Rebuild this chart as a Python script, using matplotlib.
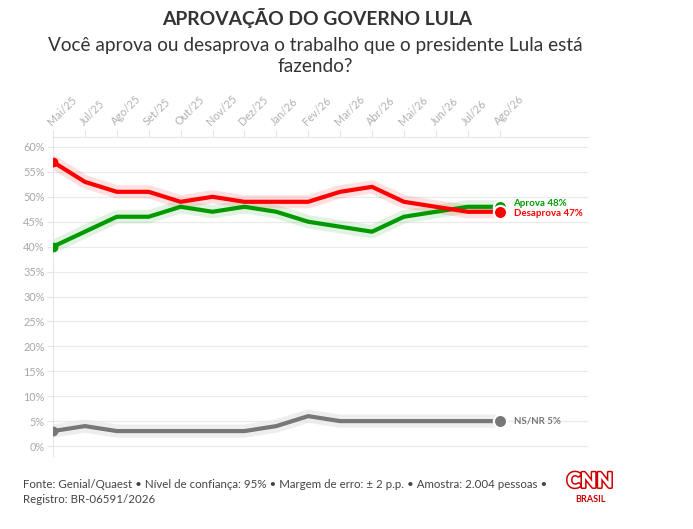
import matplotlib
matplotlib.use("Agg")
import matplotlib.pyplot as plt
import matplotlib.patheffects as pe

plt.rcParams['font.family'] = ['Lato', 'DejaVu Sans']

months = ["Mai/25", "Jul/25", "Ago/25", "Set/25", "Out/25", "Nov/25", "Dez/25",
          "Jan/26", "Fev/26", "Mar/26", "Abr/26", "Mai/26", "Jun/26", "Jul/26", "Ago/26"]
aprova = [40, 43, 46, 46, 48, 47, 48, 47, 45, 44, 43, 46, 47, 48, 48]
desaprova = [57, 53, 51, 51, 49, 50, 49, 49, 49, 51, 52, 49, 48, 47, 47]
nsnr = [3, 4, 3, 3, 3, 3, 3, 4, 6, 5, 5, 5, 5, 5, 5]
yticks = list(range(0, 61, 5))

RED = "#ff0000"
GREEN = "#009a00"
GRAY = "#777777"

W, H = 693, 529
fig = plt.figure(figsize=(W / 100, H / 100), dpi=100)
ax = fig.add_axes([53 / W, 1 - 456 / H, (588 - 53) / W, (456 - 137) / H])

x = list(range(len(months)))
series = [
    (nsnr, GRAY, "#e8e8e8", 0.7),
    (aprova, GREEN, "#009a00", 0.12),
    (desaprova, RED, "#ff0000", 0.12),
]
for vals, col, glow, ga in series:
    ax.plot(x, vals, color=glow, lw=9.5, alpha=ga,
            solid_joinstyle="round", solid_capstyle="round", zorder=2)
    ax.plot(x, vals, color=col, lw=3, solid_joinstyle="round", zorder=3)
    ax.plot(x[0], vals[0], "o", color=col, ms=6, zorder=4)
    ax.plot(x[-1], vals[-1], "o", color=col, ms=9.5, mec="white", mew=1.6, zorder=5)

ax.annotate(f"Aprova {aprova[-1]}%", (x[-1], aprova[-1]), xytext=(10, 2.5),
            textcoords="offset points", color=GREEN, fontsize=7, fontweight="bold",
            va="center", ha="left")
ax.annotate(f"Desaprova {desaprova[-1]}%", (x[-1], desaprova[-1]), xytext=(10, -1.5),
            textcoords="offset points", color=RED, fontsize=7, fontweight="bold",
            va="center", ha="left")
ax.annotate(f"NS/NR {nsnr[-1]}%", (x[-1], nsnr[-1]), xytext=(10, 0),
            textcoords="offset points", color=GRAY, fontsize=7, fontweight="bold",
            va="center", ha="left")

ax.set_xlim(0, 16.77)
ax.set_ylim(-2, 62)
ax.set_yticks(yticks)
ax.set_yticklabels([f"{v}%" for v in yticks])
ax.set_xticks(x)
ax.set_xticklabels(months, rotation=45, ha="left", rotation_mode="anchor")
ax.xaxis.tick_top()
ax.tick_params(axis="x", colors="#e6e6e6", labelcolor="#b0b0b0", labelsize=7.8,
               length=5, width=0.8, pad=2)
ax.tick_params(axis="y", colors="#e6e6e6", labelcolor="#a8a8a8", labelsize=7.8,
               length=4, width=0.8, pad=2)
ax.grid(axis="y", color="#ebebeb", lw=0.9, zorder=0)
for s in ["right", "bottom"]:
    ax.spines[s].set_visible(False)
ax.spines["top"].set_color("#e6e6e6")
ax.spines["left"].set_color("#e6e6e6")
ax.set_axisbelow(True)

fig.text(317 / W, 1 - 18 / H, "APROVAÇÃO DO GOVERNO LULA", ha="center", va="center",
         fontsize=13.9, fontweight="bold", color="#333333")
fig.text(315 / W, 1 - 56 / H,
         "Você aprova ou desaprova o trabalho que o presidente Lula está\nfazendo?",
         ha="center", va="center", fontsize=13.7, color="#333333", linespacing=1.3)

fig.text(23 / W, 1 - 492 / H,
         "Fonte: Genial/Quaest • Nível de confiança: 95% • Margem de erro: ± 2 p.p. • Amostra: 2.004 pessoas •\nRegistro: BR-06591/2026",
         ha="left", va="center", fontsize=8.3, color="#444444", linespacing=1.45)

t = fig.text(590 / W, 1 - 481 / H, "CNN", ha="center", va="center", fontsize=15,
             fontweight="heavy", color="white")
t.set_path_effects([pe.Stroke(linewidth=2.2, foreground="#cc0000"), pe.Normal()])
fig.text(590 / W, 1 - 500 / H, "BRASIL", ha="center", va="center", fontsize=6.5,
         fontweight="bold", color="#cc0000")

fig.savefig("out.png", dpi=100)
